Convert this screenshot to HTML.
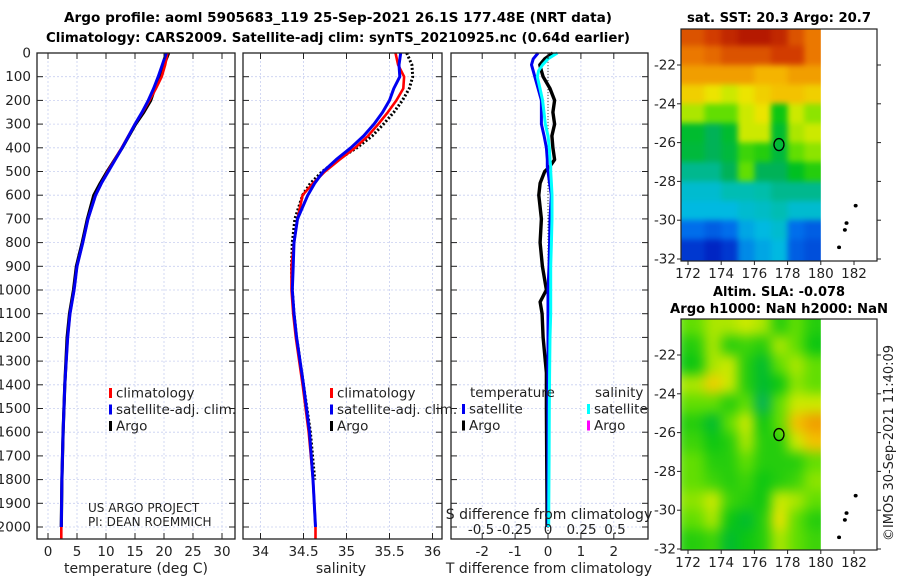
<!DOCTYPE html>
<html><head><meta charset="utf-8"><style>
body{margin:0;background:#fff;}
svg{display:block;font-family:"DejaVu Sans","Liberation Sans",sans-serif;}
.t{font-size:13.5px;fill:#222;}
.b{font-weight:bold;font-size:13.5px;fill:#000;}
</style></head><body>
<svg id="c" width="900" height="580" viewBox="0 0 900 580" xmlns="http://www.w3.org/2000/svg">
<text class="b" x="338" y="22" text-anchor="middle" textLength="548" lengthAdjust="spacingAndGlyphs">Argo profile: aoml 5905683_119 25-Sep-2021 26.1S 177.48E (NRT data)</text>
<text class="b" x="338" y="42" text-anchor="middle" textLength="584" lengthAdjust="spacingAndGlyphs">Climatology: CARS2009. Satellite-adj clim: synTS_20210925.nc (0.64d earlier)</text>
<text class="b" x="779" y="22" text-anchor="middle" textLength="184" lengthAdjust="spacingAndGlyphs">sat. SST: 20.3 Argo: 20.7</text>
<text class="b" x="779" y="296" text-anchor="middle" textLength="132" lengthAdjust="spacingAndGlyphs">Altim. SLA: -0.078</text>
<text class="b" x="779" y="313" text-anchor="middle" textLength="218" lengthAdjust="spacingAndGlyphs">Argo h1000: NaN h2000: NaN</text>
<text class="t" transform="translate(893,541) rotate(-90)" textLength="196" lengthAdjust="spacingAndGlyphs">©IMOS 30-Sep-2021 11:40:09</text>
<g id="g"></g>
</svg>
<script>
// ---- profile data ----
const depthT = [0,50,100,150,200,250,300,400,500,550,600,700,800,900,1000,1100,1200,1400,1600,1800,2000,2050];
const tempClim = [20.6,20.2,19.6,18.6,17.5,16.3,15.0,12.7,10.3,9.2,8.2,6.9,6.0,5.0,4.5,3.8,3.4,2.9,2.6,2.4,2.3,2.3];
const tempSat  = [20.4,19.7,19.0,18.2,17.3,16.2,15.0,12.8,10.4,9.2,8.2,6.9,6.0,5.0,4.5,3.8,3.4,2.9,2.6,2.4,2.3,null];
const tempArgo = [20.8,20.0,19.2,18.4,17.7,16.5,15.1,12.8,10.2,9.0,7.9,6.8,5.9,4.9,4.4,3.7,3.3,2.9,2.6,2.4,2.3,null];
const depthS = [0,50,100,150,200,250,300,350,400,450,500,550,600,700,800,900,1000,1100,1200,1400,1600,1800,2000,2050];
const salClim = [35.57,35.60,35.67,35.66,35.58,35.48,35.37,35.25,35.10,34.92,34.75,34.61,34.49,34.43,34.39,34.36,34.36,34.38,34.41,34.49,34.56,34.61,34.64,34.64];
const salSat  = [35.63,35.61,35.62,35.55,35.50,35.42,35.32,35.20,35.05,34.88,34.73,34.63,34.55,34.43,34.39,34.38,34.37,34.39,34.42,34.50,34.57,34.61,34.64,null];
const salArgo = [35.70,35.76,35.77,35.73,35.65,35.55,35.43,35.30,35.12,34.90,34.72,34.58,34.49,34.40,34.37,34.36,34.37,34.39,34.42,34.50,34.58,34.63,null,null];
const depthD = [0,25,50,75,100,150,200,250,300,350,400,450,480,500,550,600,700,800,900,1000,1050,1100,1200,1350,1500,1700,1900,2000];
const dTArgo = [0.15,-0.1,-0.25,-0.2,-0.15,0.06,0.2,0.15,0.2,0.12,0.15,0.2,0.05,-0.1,-0.24,-0.28,-0.2,-0.24,-0.17,-0.05,-0.24,-0.18,-0.15,-0.05,-0.05,-0.04,-0.03,-0.03];
const dTSat  = [-0.3,-0.45,-0.5,-0.45,-0.4,-0.3,-0.2,-0.2,-0.2,-0.12,-0.05,-0.02,-0.02,0,0.05,0.1,0.06,0.05,0.03,0,0,0,0,0,0,0,0,0];
const dSSat  = [0.07,0.0,-0.04,-0.07,-0.08,-0.06,-0.04,-0.03,-0.02,0,0.01,0.015,0.02,0.02,0.025,0.03,0.03,0.025,0.02,0.02,0.02,0.02,0.015,0.012,0.01,0.008,0.006,0.005];
const depthTicks = [0,100,200,300,400,500,600,700,800,900,1000,1100,1200,1300,1400,1500,1600,1700,1800,1900,2000];
const tTicks = [0,5,10,15,20,25,30];
const sTicks = [34,34.5,35,35.5,36];
const dTTicks = [-2,-1,0,1,2];
const dSTicks = [-0.5,-0.25,0,0.25,0.5];
// ---- map data (rows -20..-32 lat, cols 172..180 lon, 1 deg) ----
const sstGrid = [
[0.85,0.88,0.92,0.95,0.95,0.92,0.85,0.80],
[0.80,0.82,0.85,0.85,0.85,0.88,0.88,0.80],
[0.75,0.75,0.75,0.75,0.72,0.72,0.75,0.75],
[0.68,0.65,0.62,0.65,0.68,0.70,0.70,0.68],
[0.60,0.55,0.55,0.62,0.65,0.48,0.62,0.58],
[0.45,0.42,0.45,0.62,0.62,0.45,0.60,0.62],
[0.44,0.42,0.44,0.52,0.50,0.44,0.55,0.58],
[0.38,0.38,0.42,0.55,0.42,0.42,0.46,0.50],
[0.32,0.32,0.35,0.35,0.36,0.38,0.38,0.38],
[0.30,0.30,0.30,0.32,0.33,0.35,0.32,0.32],
[0.22,0.20,0.22,0.28,0.30,0.32,0.22,0.20],
[0.15,0.12,0.15,0.25,0.28,0.30,0.20,0.18]];
const slaGrid = [
[.55,.60,.60,.62,.60,.50,.55,.50],
[.50,.60,.50,.52,.50,.60,.55,.48],
[.48,.60,.62,.50,.45,.55,.60,.55],
[.60,.68,.62,.50,.45,.48,.58,.55],
[.55,.55,.50,.55,.42,.55,.62,.62],
[.50,.45,.55,.62,.48,.55,.70,.75],
[.52,.48,.50,.60,.50,.50,.62,.70],
[.55,.50,.50,.55,.50,.50,.50,.55],
[.55,.52,.50,.52,.48,.50,.52,.58],
[.58,.62,.52,.50,.48,.62,.60,.55],
[.55,.60,.48,.45,.50,.65,.55,.50],
[.50,.52,.45,.48,.50,.60,.55,.52]];
const latTicks = [-22,-24,-26,-28,-30,-32];
const lonTicks = [172,174,176,178,180,182];
const islandLon = [182.1,181.55,181.45,181.1];
const islandLat = [-29.25,-30.15,-30.5,-31.4];
const argoLon = 177.48, argoLat = -26.1;

const NS="http://www.w3.org/2000/svg";
const G=document.getElementById('g');
function el(tag,attrs,parent){const e=document.createElementNS(NS,tag);for(const k in attrs)e.setAttribute(k,attrs[k]);(parent||G).appendChild(e);return e;}
const top0=53, bot=539;
const yD=d=>top0+d*0.237;

function line(pts){return pts.filter(p=>p).map((p,i)=>(i?'L':'M')+p[0].toFixed(1)+','+p[1].toFixed(1)).join('');}
function grid(x0,x1,xs,ys){
  xs.forEach(x=>{const e=el('line',{x1:x,x2:x,y1:top0,y2:bot,stroke:'#c8cff0','stroke-dasharray':'2,2','stroke-width':0.8});
  });
  ys.forEach(y=>{const e=el('line',{x1:x0,x2:x1,y1:y,y2:y,stroke:'#c8cff0','stroke-dasharray':'2,2','stroke-width':0.8});
  });
}
function frame(x0,x1,name,xs,ys){
  const r=el('rect',{x:x0,y:top0,width:x1-x0,height:bot-top0,fill:'none',stroke:'#222','stroke-width':1.3});
  
  xs.forEach(x=>{el('line',{x1:x,x2:x,y1:top0,y2:top0+6,stroke:'#222'});el('line',{x1:x,x2:x,y1:bot,y2:bot-6,stroke:'#222'});});
  ys.forEach(y=>{el('line',{x1:x0,x2:x0+6,y1:y,y2:y,stroke:'#222'});el('line',{x1:x1,x2:x1-6,y1:y,y2:y,stroke:'#222'});});
}
function txt(x,y,s,anchor,name,size){const e=el('text',{x:x,y:y,'text-anchor':anchor||'middle',class:'t'});if(size)e.setAttribute('style','font-size:'+size+'px');e.textContent=s;
  return e;}
function path(d,color,w,name,dash){const e=el('path',{d:d,fill:'none',stroke:color,'stroke-width':w,'stroke-linejoin':'round'});if(dash)e.setAttribute('stroke-dasharray',dash);
  return e;}

const dy=depthTicks.map(yD);
// Panel 1 temperature
const xT=t=>48+t*5.8;
grid(37,235,tTicks.map(xT),dy);
path(line(depthT.map((d,i)=>tempArgo[i]==null?null:[xT(tempArgo[i]),yD(d)])),'#000',3.2,'temp-argo-line');
path(line(depthT.map((d,i)=>[xT(tempClim[i]),yD(d)])),'#f00',2.6,'temp-climatology-line');
path(line(depthT.map((d,i)=>tempSat[i]==null?null:[xT(tempSat[i]),yD(d)])),'#0000f0',3,'temp-satellite-line');
frame(37,235,'temperature-panel',tTicks.map(xT),dy);
depthTicks.forEach((d,i)=>txt(31,dy[i]+4.5,String(d),'end','depth-tick-label'));
tTicks.forEach(t=>txt(xT(t),556,String(t),'middle','temp-tick-label'));
txt(136,573,'temperature (deg C)','middle','temp-axis-title',14);
txt(88,512,'US ARGO PROJECT','start','project-label',12);
txt(88,526,'PI: DEAN ROEMMICH','start','pi-label',12);
function legend(x,y,items,nm){items.forEach((it,i)=>{
  const m=el('rect',{x:x,y:y+i*16.5-5,width:3,height:10,fill:it[1]});
  txt(x+7,y+i*16.5+4.5,it[0],'start',nm+'-entry');});}
legend(109,393,[['climatology','#f00'],['satellite-adj. clim.','#0000f0'],['Argo','#000']],'temp-legend');

// Panel 2 salinity
const xS=s=>260.5+(s-34)*86;
grid(243,442,sTicks.map(xS),dy);
path(line(depthS.map((d,i)=>salArgo[i]==null?null:[xS(salArgo[i]),yD(d)])),'#000',3,'sal-argo-line','2,2');
path(line(depthS.map((d,i)=>[xS(salClim[i]),yD(d)])),'#f00',2.6,'sal-climatology-line');
path(line(depthS.map((d,i)=>salSat[i]==null?null:[xS(salSat[i]),yD(d)])),'#0000f0',3,'sal-satellite-line');
frame(243,442,'salinity-panel',sTicks.map(xS),dy);
sTicks.forEach(s=>txt(xS(s),556,String(s),'middle','sal-tick-label'));
txt(341,573,'salinity','middle','sal-axis-title',14);
legend(330,393,[['climatology','#f00'],['satellite-adj. clim.','#0000f0'],['Argo','#000']],'sal-legend');

// Panel 3 differences
const xdT=v=>548+v*32.9, xdS=v=>548+v*134;
grid(451,648,dTTicks.map(xdT),dy);
path('M548,'+top0+'L548,'+bot,'#444',1,'zero-line','1,2');
path(line(depthD.map((d,i)=>[xdT(dTArgo[i]),yD(d)])),'#000',3.4,'tdiff-argo-line');
path(line(depthD.map((d,i)=>[xdT(dTSat[i]),yD(d)])),'#0000f0',3,'tdiff-satellite-line');
path(line(depthD.map((d,i)=>[xdS(dSSat[i]),yD(d)])),'#00ffff',3,'sdiff-satellite-line');
frame(451,648,'difference-panel',dTTicks.map(xdT),dy);
dTTicks.forEach(v=>txt(xdT(v),556,String(v),'middle','tdiff-tick-label'));
txt(549,573,'T difference from climatology','middle','tdiff-axis-title',14);
dSTicks.forEach(v=>txt(xdS(v),534,String(v),'middle','sdiff-tick-label'));
txt(549,519,'S difference from climatology','middle','sdiff-axis-title',14);
txt(470,397,'temperature','start','tdiff-legend-header');
txt(595,397,'salinity','start','sdiff-legend-header');
legend(462,409,[['satellite','#0000f0'],['Argo','#000']],'tdiff-legend');
legend(587,409,[['satellite','#00ffff'],['Argo','#ff00ff']],'sdiff-legend');

// Maps
const cStops=[[0,[0,0,130]],[0.13,[0,40,200]],[0.22,[0,110,235]],[0.3,[0,185,225]],[0.36,[0,190,170]],[0.41,[0,175,100]],[0.47,[0,195,20]],[0.56,[110,225,0]],[0.64,[235,235,0]],[0.72,[245,180,0]],[0.8,[235,120,0]],[0.88,[210,60,0]],[1,[160,0,0]]];
function cmap(v){v=Math.max(0,Math.min(1,v));
  for(let i=1;i<cStops.length;i++){if(v<=cStops[i][0]){const a=cStops[i-1],b=cStops[i],f=(v-a[0])/(b[0]-a[0]);
    return 'rgb('+a[1].map((c,k)=>Math.round(c+(b[1][k]-c)*f)).join(',')+')';}}
  return 'rgb(160,0,0)';}
function drawMap(id,gridv,mtop,mbot,latA,latB,name,blur){
  const xL=v=>688+(v-172)*16.6, yL=v=>latA+(v-(-22))*(-(latB-latA)/10);
  const left=681,right=877;
  const fx=xL(180);
  const wrap=document.createElementNS(NS,'svg');
  wrap.setAttribute('x',left);wrap.setAttribute('y',mtop);wrap.setAttribute('width',fx-left);wrap.setAttribute('height',mbot-mtop);
  wrap.setAttribute('viewBox',left+' '+mtop+' '+(fx-left)+' '+(mbot-mtop));
  
  
  G.appendChild(wrap);
  const gi=el('g',{style:'filter:blur('+blur+'px)'},wrap);
  gridv.forEach((row,r)=>row.forEach((v,c)=>{
    const x0=xL(172+c)-(c==0?12:0),y0=yL(-20-r)-(r==0?12:0);
    const x1=xL(173+c)+(c==7?0:0),y1=yL(-21-r)+(r==11?12:0);
    const cell=el('rect',{x:x0,y:y0,width:x1-x0+0.5,height:y1-y0+0.5,fill:cmap(v)},gi);
    
    
  }));
  // pad right edge beyond 180 inside clip so blur doesn't fade
  gridv.forEach((row,r)=>{const y0=yL(-20-r)-(r==0?12:0),y1=yL(-21-r)+(r==11?12:0);
    el('rect',{x:fx,y:y0,width:12,height:y1-y0+0.5,fill:cmap(row[7])},gi);});
  const f=el('rect',{x:left,y:mtop,width:right-left,height:mbot-mtop,fill:'none',stroke:'#222','stroke-width':1.2});
  
  latTicks.forEach(l=>{const y=yL(l);el('line',{x1:left-4,x2:left,y1:y,y2:y,stroke:'#222'});el('line',{x1:right,x2:right+4,y1:y,y2:y,stroke:'#222'});
    txt(left-5,y+4.5,String(l),'end',name+'-lat-label');});
  lonTicks.forEach(l=>{const x=xL(l);el('line',{x1:x,x2:x,y1:mbot,y2:mbot+4,stroke:'#222'});txt(x,mbot+17,String(l),'middle',name+'-lon-label');});
  islandLon.forEach((lo,i)=>{const e=el('ellipse',{cx:xL(lo),cy:yL(islandLat[i]),rx:2,ry:1.8,fill:'#000'});});
  const m=el('ellipse',{cx:xL(argoLon),cy:yL(argoLat),rx:5,ry:6,fill:'none',stroke:'#000','stroke-width':1.3});
  
}
drawMap('c1',sstGrid,29,261,65,259,'sst-map',3);
drawMap('c2',slaGrid,319,550,355,549,'sla-map',6);
</script>
</body></html>
